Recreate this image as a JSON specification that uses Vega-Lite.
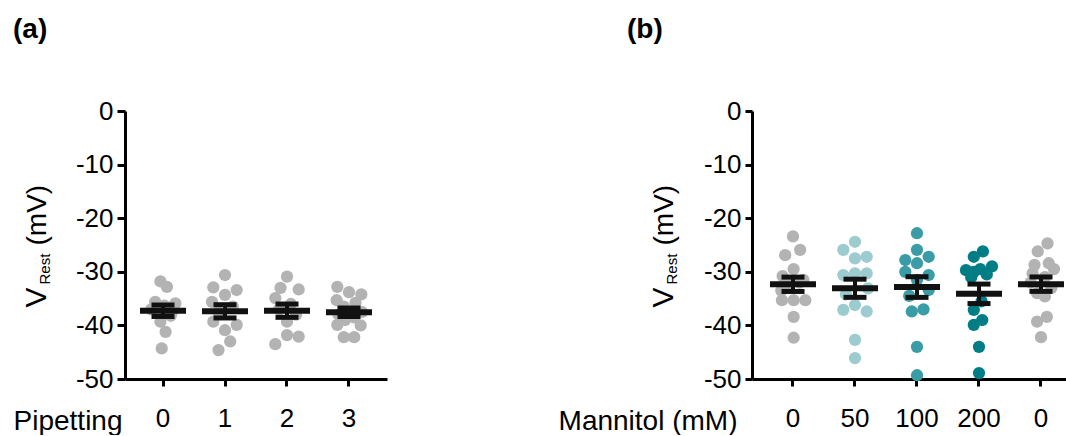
{
"$schema": "https://vega.github.io/schema/vega-lite/v6.json",
"padding": {"left": 13, "top": 16, "right": 0, "bottom": 0},
"config": {"font": "Liberation Sans", "view": {"stroke": null}, "axis": {"grid": false}},
"datasets": {
"a": [
{"p":"0","v":-31.8,"dx":-0.2},{"p":"0","v":-32.8,"dx":0.3},{"p":"0","v":-35.6,"dx":-0.6},{"p":"0","v":-35.9,"dx":0.95},{"p":"0","v":-36.3,"dx":0.1},{"p":"0","v":-37.0,"dx":-0.9},{"p":"0","v":-37.5,"dx":0.7},{"p":"0","v":-38.2,"dx":0.6},{"p":"0","v":-39.3,"dx":-0.2},{"p":"0","v":-41.2,"dx":0.2},{"p":"0","v":-44.3,"dx":-0.1},
{"p":"1","v":-30.6,"dx":0},{"p":"1","v":-32.9,"dx":-0.9},{"p":"1","v":-33.4,"dx":0.9},{"p":"1","v":-34.3,"dx":0},{"p":"1","v":-35.6,"dx":-1.0},{"p":"1","v":-36.5,"dx":0.6},{"p":"1","v":-37.5,"dx":-0.5},{"p":"1","v":-39.3,"dx":-0.9},{"p":"1","v":-39.9,"dx":0.9},{"p":"1","v":-40.9,"dx":0},{"p":"1","v":-43.0,"dx":0.4},{"p":"1","v":-44.6,"dx":-0.5},
{"p":"2","v":-30.9,"dx":0},{"p":"2","v":-33.0,"dx":-0.5},{"p":"2","v":-33.3,"dx":0.9},{"p":"2","v":-34.9,"dx":-0.9},{"p":"2","v":-36.0,"dx":0.3},{"p":"2","v":-37.0,"dx":-0.6},{"p":"2","v":-38.0,"dx":0.7},{"p":"2","v":-39.3,"dx":0},{"p":"2","v":-41.8,"dx":0},{"p":"2","v":-42.1,"dx":0.9},{"p":"2","v":-43.5,"dx":-0.9},
{"p":"3","v":-32.8,"dx":-0.9},{"p":"3","v":-33.8,"dx":0},{"p":"3","v":-34.2,"dx":0.95},{"p":"3","v":-35.3,"dx":-0.95},{"p":"3","v":-35.8,"dx":0.5},{"p":"3","v":-36.5,"dx":-0.4},{"p":"3","v":-37.5,"dx":1.0},{"p":"3","v":-38.0,"dx":-0.8},{"p":"3","v":-38.5,"dx":0.4},{"p":"3","v":-39.0,"dx":-0.3},{"p":"3","v":-39.9,"dx":-0.9},{"p":"3","v":-40.0,"dx":0.9},{"p":"3","v":-42.2,"dx":-0.4},{"p":"3","v":-42.2,"dx":0.4}
],
"b": [
{"m":"0","v":-23.4,"dx":0},{"m":"0","v":-25.9,"dx":0.55},{"m":"0","v":-26.9,"dx":-0.6},{"m":"0","v":-29.5,"dx":0.05},{"m":"0","v":-30.8,"dx":-0.8},{"m":"0","v":-31.5,"dx":0.8},{"m":"0","v":-32.5,"dx":-0.3},{"m":"0","v":-32.0,"dx":0.5},{"m":"0","v":-33.5,"dx":-0.9},{"m":"0","v":-35.3,"dx":-0.85},{"m":"0","v":-35.3,"dx":0.05},{"m":"0","v":-35.3,"dx":0.95},{"m":"0","v":-38.4,"dx":0.05},{"m":"0","v":-42.3,"dx":0.05},
{"m":"50","v":-24.4,"dx":0},{"m":"50","v":-25.9,"dx":-0.9},{"m":"50","v":-27.5,"dx":0},{"m":"50","v":-27.2,"dx":0.9},{"m":"50","v":-30.6,"dx":-0.9},{"m":"50","v":-30.3,"dx":0},{"m":"50","v":-30.3,"dx":0.9},{"m":"50","v":-33.1,"dx":1.0},{"m":"50","v":-34.2,"dx":-0.7},{"m":"50","v":-36.2,"dx":0},{"m":"50","v":-37.1,"dx":-0.9},{"m":"50","v":-37.4,"dx":0.9},{"m":"50","v":-42.7,"dx":0},{"m":"50","v":-46.1,"dx":0},
{"m":"100","v":-22.8,"dx":0},{"m":"100","v":-25.9,"dx":0},{"m":"100","v":-27.2,"dx":0.9},{"m":"100","v":-27.8,"dx":-0.9},{"m":"100","v":-28.4,"dx":0},{"m":"100","v":-30.0,"dx":-0.9},{"m":"100","v":-30.6,"dx":0.9},{"m":"100","v":-31.5,"dx":0},{"m":"100","v":-33.4,"dx":0.9},{"m":"100","v":-34.5,"dx":-0.6},{"m":"100","v":-37.0,"dx":0.5},{"m":"100","v":-37.4,"dx":-0.4},{"m":"100","v":-44.0,"dx":0},{"m":"100","v":-49.3,"dx":0},
{"m":"200","v":-26.2,"dx":0.3},{"m":"200","v":-27.2,"dx":-0.4},{"m":"200","v":-29.0,"dx":1.0},{"m":"200","v":-29.7,"dx":-1.0},{"m":"200","v":-29.5,"dx":0.1},{"m":"200","v":-30.0,"dx":-0.4},{"m":"200","v":-30.5,"dx":0.6},{"m":"200","v":-31.0,"dx":-0.6},{"m":"200","v":-35.5,"dx":0.2},{"m":"200","v":-37.1,"dx":-0.4},{"m":"200","v":-39.0,"dx":0.25},{"m":"200","v":-39.9,"dx":-0.4},{"m":"200","v":-44.0,"dx":0},{"m":"200","v":-48.9,"dx":0},
{"m":"0 (wash)","v":-24.7,"dx":0.5},{"m":"0 (wash)","v":-26.2,"dx":-0.25},{"m":"0 (wash)","v":-28.4,"dx":0.6},{"m":"0 (wash)","v":-28.7,"dx":-0.5},{"m":"0 (wash)","v":-29.5,"dx":1.0},{"m":"0 (wash)","v":-30.3,"dx":-0.65},{"m":"0 (wash)","v":-31.0,"dx":0.3},{"m":"0 (wash)","v":-32.0,"dx":-0.8},{"m":"0 (wash)","v":-33.0,"dx":0.8},{"m":"0 (wash)","v":-34.0,"dx":-0.3},{"m":"0 (wash)","v":-34.6,"dx":0.3},{"m":"0 (wash)","v":-38.4,"dx":0.45},{"m":"0 (wash)","v":-39.3,"dx":-0.3},{"m":"0 (wash)","v":-42.2,"dx":0}
]
},
"spacing": 365,
"bounds": "flush",
"hconcat": [
{
"width": 262, "height": 268,
"data": {"name": "a"},
"title": {"text": "(a)", "anchor": "start", "frame": "group", "dx": -112, "fontSize": 28, "fontWeight": "bold", "color": "black", "offset": 54},
"encoding": {
"x": {"field": "p", "type": "nominal", "scale": {"type": "band", "domain": ["0","1","2","3"], "paddingInner": 0, "paddingOuter": 0.113},
"axis": {"title": "Pipetting", "titleFontSize": 28, "titleFontWeight": "normal", "titleColor": "black", "titleAlign": "right", "titleX": -3, "titleY": 50, "titleBaseline": "alphabetic", "labelFontSize": 26, "labelColor": "black", "labelAngle": 0, "labelPadding": 19, "domainColor": "black", "domainWidth": 3, "tickColor": "black", "tickWidth": 3, "tickSize": 7}}
},
"layer": [
{"mark": {"type": "circle", "size": 150, "opacity": 1, "color": "#b3b3b3"},
"encoding": {
"y": {"field": "v", "type": "quantitative", "scale": {"domain": [-50, 0], "nice": false},
"axis": {"orient": "left", "values": [0,-10,-20,-30,-40,-50], "labelExpr": "datum.value == 0 ? '0' : '-' + abs(datum.value)", "labelFontSize": 26, "labelColor": "black", "labelPadding": 4, "domainColor": "black", "domainWidth": 3, "tickColor": "black", "tickWidth": 3, "tickSize": 8, "title": "(mV)", "titleFontSize": 28, "titleFontWeight": "normal", "titleColor": "black", "titleAngle": -90, "titleAlign": "left", "titleBaseline": "alphabetic", "titleX": -80, "titleY": 134}},
"xOffset": {"field": "dx", "type": "quantitative", "scale": {"domain": [-2.385, 2.385], "nice": false}}
}},
{"mark": {"type": "errorbar", "extent": "stderr", "thickness": 4, "color": "#111111", "opacity": 1, "ticks": {"size": 23, "thickness": 5, "color": "#111111", "opacity": 1}},
"encoding": {
"y": {"field": "v", "type": "quantitative", "scale": {"domain": [-50, 0], "nice": false},
"axis": {"orient": "left", "labels": false, "ticks": false, "domain": false, "title": "V", "titleFontSize": 30, "titleFontWeight": "normal", "titleColor": "black", "titleAngle": -90, "titleAlign": "left", "titleBaseline": "alphabetic", "titleX": -80, "titleY": 196}}
}},
{"mark": {"type": "tick", "size": 46, "thickness": 6, "color": "#111111", "opacity": 1},
"encoding": {
"y": {"aggregate": "mean", "field": "v", "type": "quantitative", "scale": {"domain": [-50, 0], "nice": false},
"axis": {"orient": "left", "labels": false, "ticks": false, "domain": false, "title": "Rest", "titleFontSize": 15, "titleFontWeight": "normal", "titleColor": "black", "titleAngle": -90, "titleAlign": "left", "titleBaseline": "alphabetic", "titleX": -76, "titleY": 173}}
}}
],
"resolve": {"scale": {"y": "independent"}}
},
{
"width": 320, "height": 268,
"data": {"name": "b"},
"title": {"text": "(b)", "anchor": "start", "frame": "group", "dx": -125, "fontSize": 28, "fontWeight": "bold", "color": "black", "offset": 54},
"encoding": {
"x": {"field": "m", "type": "nominal", "scale": {"type": "band", "domain": ["0","50","100","200","0 (wash)"], "paddingInner": 0, "paddingOuter": 0.0806, "align": 1},
"axis": {"title": "Mannitol (mM)", "labelExpr": "datum.value == '0 (wash)' ? '0' : datum.label", "titleFontSize": 28, "titleFontWeight": "normal", "titleColor": "black", "titleAlign": "right", "titleX": -15, "titleY": 50, "titleBaseline": "alphabetic", "labelFontSize": 26, "labelColor": "black", "labelAngle": 0, "labelPadding": 19, "domainColor": "black", "domainWidth": 3, "tickColor": "black", "tickWidth": 3, "tickSize": 7}}
},
"layer": [
{"mark": {"type": "circle", "size": 150, "opacity": 1},
"encoding": {
"y": {"field": "v", "type": "quantitative", "scale": {"domain": [-50, 0], "nice": false},
"axis": {"orient": "left", "values": [0,-10,-20,-30,-40,-50], "labelExpr": "datum.value == 0 ? '0' : '-' + abs(datum.value)", "labelFontSize": 26, "labelColor": "black", "labelPadding": 4, "domainColor": "black", "domainWidth": 3, "tickColor": "black", "tickWidth": 3, "tickSize": 7, "title": "(mV)", "titleFontSize": 28, "titleFontWeight": "normal", "titleColor": "black", "titleAngle": -90, "titleAlign": "left", "titleBaseline": "alphabetic", "titleX": -80, "titleY": 134}},
"xOffset": {"field": "dx", "type": "quantitative", "scale": {"domain": [-2.385, 2.385], "nice": false}},
"color": {"field": "m", "type": "nominal", "scale": {"domain": ["0","50","100","200","0 (wash)"], "range": ["#b3b3b3","#9ccbd0","#3a9ca6","#007d85","#b3b3b3"]}, "legend": null}
}},
{"mark": {"type": "errorbar", "extent": "stderr", "thickness": 4, "color": "#111111", "opacity": 1, "ticks": {"size": 23, "thickness": 5, "color": "#111111", "opacity": 1}},
"encoding": {
"y": {"field": "v", "type": "quantitative", "scale": {"domain": [-50, 0], "nice": false},
"axis": {"orient": "left", "labels": false, "ticks": false, "domain": false, "title": "V", "titleFontSize": 30, "titleFontWeight": "normal", "titleColor": "black", "titleAngle": -90, "titleAlign": "left", "titleBaseline": "alphabetic", "titleX": -80, "titleY": 196}}
}},
{"mark": {"type": "tick", "size": 46, "thickness": 6, "color": "#111111", "opacity": 1},
"encoding": {
"y": {"aggregate": "mean", "field": "v", "type": "quantitative", "scale": {"domain": [-50, 0], "nice": false},
"axis": {"orient": "left", "labels": false, "ticks": false, "domain": false, "title": "Rest", "titleFontSize": 15, "titleFontWeight": "normal", "titleColor": "black", "titleAngle": -90, "titleAlign": "left", "titleBaseline": "alphabetic", "titleX": -76, "titleY": 173}}
}}
],
"resolve": {"scale": {"y": "independent"}}
}
]
}
